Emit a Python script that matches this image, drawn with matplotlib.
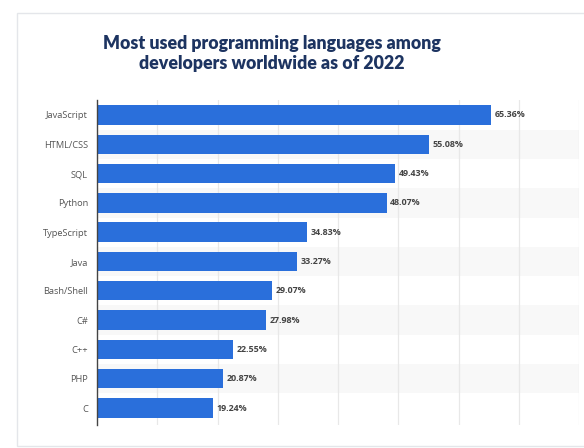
import matplotlib
matplotlib.use("Agg")
import matplotlib.pyplot as plt
from matplotlib.patches import Rectangle

languages = ["JavaScript", "HTML/CSS", "SQL", "Python", "TypeScript", "Java",
             "Bash/Shell", "C#", "C++", "PHP", "C"]
shares = [65.36, 55.08, 49.43, 48.07, 34.83, 33.27, 29.07, 27.98, 22.55, 20.87, 19.24]
x_ticks = [0, 10, 20, 30, 40, 50, 60, 70, 80]

bar_color = "#2a6fdb"
title_color = "#1d3461"

fig = plt.figure(figsize=(5.84, 4.48), dpi=100)
fig.patch.set_facecolor("white")

# card frame
card = Rectangle((17 / 584, 1 - 446 / 448), 1.0, (446 - 13) / 448,
                 transform=fig.transFigure, facecolor="white",
                 edgecolor="#e4e6ea", linewidth=1.0, zorder=-5)
fig.patches.append(card)

title_kw = dict(ha="center", va="center", fontsize=12.8, fontweight="heavy",
                color=title_color, family="Lato")
fig.text(0.465, 1 - 43 / 448, "Most used programming languages among", **title_kw)
fig.text(0.465, 1 - 63 / 448, "developers worldwide as of 2022", **title_kw)

ax = fig.add_axes([97 / 584, 1 - 425 / 448, (579 - 97) / 584, (425 - 100) / 448])
ax.set_facecolor("none")
ax.set_zorder(2)

pos = list(range(len(languages)))

# alternating row shading
for i in pos:
    if i % 2 == 1:
        ax.axhspan(i - 0.5, i + 0.5, color="#f8f8f8", zorder=0, linewidth=0)

for t in x_ticks[1:]:
    ax.axvline(t, color="#e8e8e8", linewidth=0.9, zorder=1)

ax.barh(pos, shares, height=0.66, color=bar_color, zorder=2)

for p, v in zip(pos, shares):
    ax.text(v + 0.6, p, f"{v:.2f}%", va="center", ha="left",
            fontsize=6.4, fontweight="bold", color="#444444", family="Open Sans")

ax.set_xlim(0, 80)
ax.set_ylim(10.58, -0.51)
ax.set_yticks(pos)
ax.set_yticklabels(languages, fontsize=6.7, color="#555555", family="Open Sans")
ax.set_xticks([])
ax.tick_params(axis="y", length=0, pad=6.5)
for s in ["top", "right", "bottom"]:
    ax.spines[s].set_visible(False)
ax.spines["left"].set_color("#444444")
ax.spines["left"].set_linewidth(1.0)
ax.spines["left"].set_zorder(3)

fig.savefig("out.png", dpi=100, facecolor="white")
